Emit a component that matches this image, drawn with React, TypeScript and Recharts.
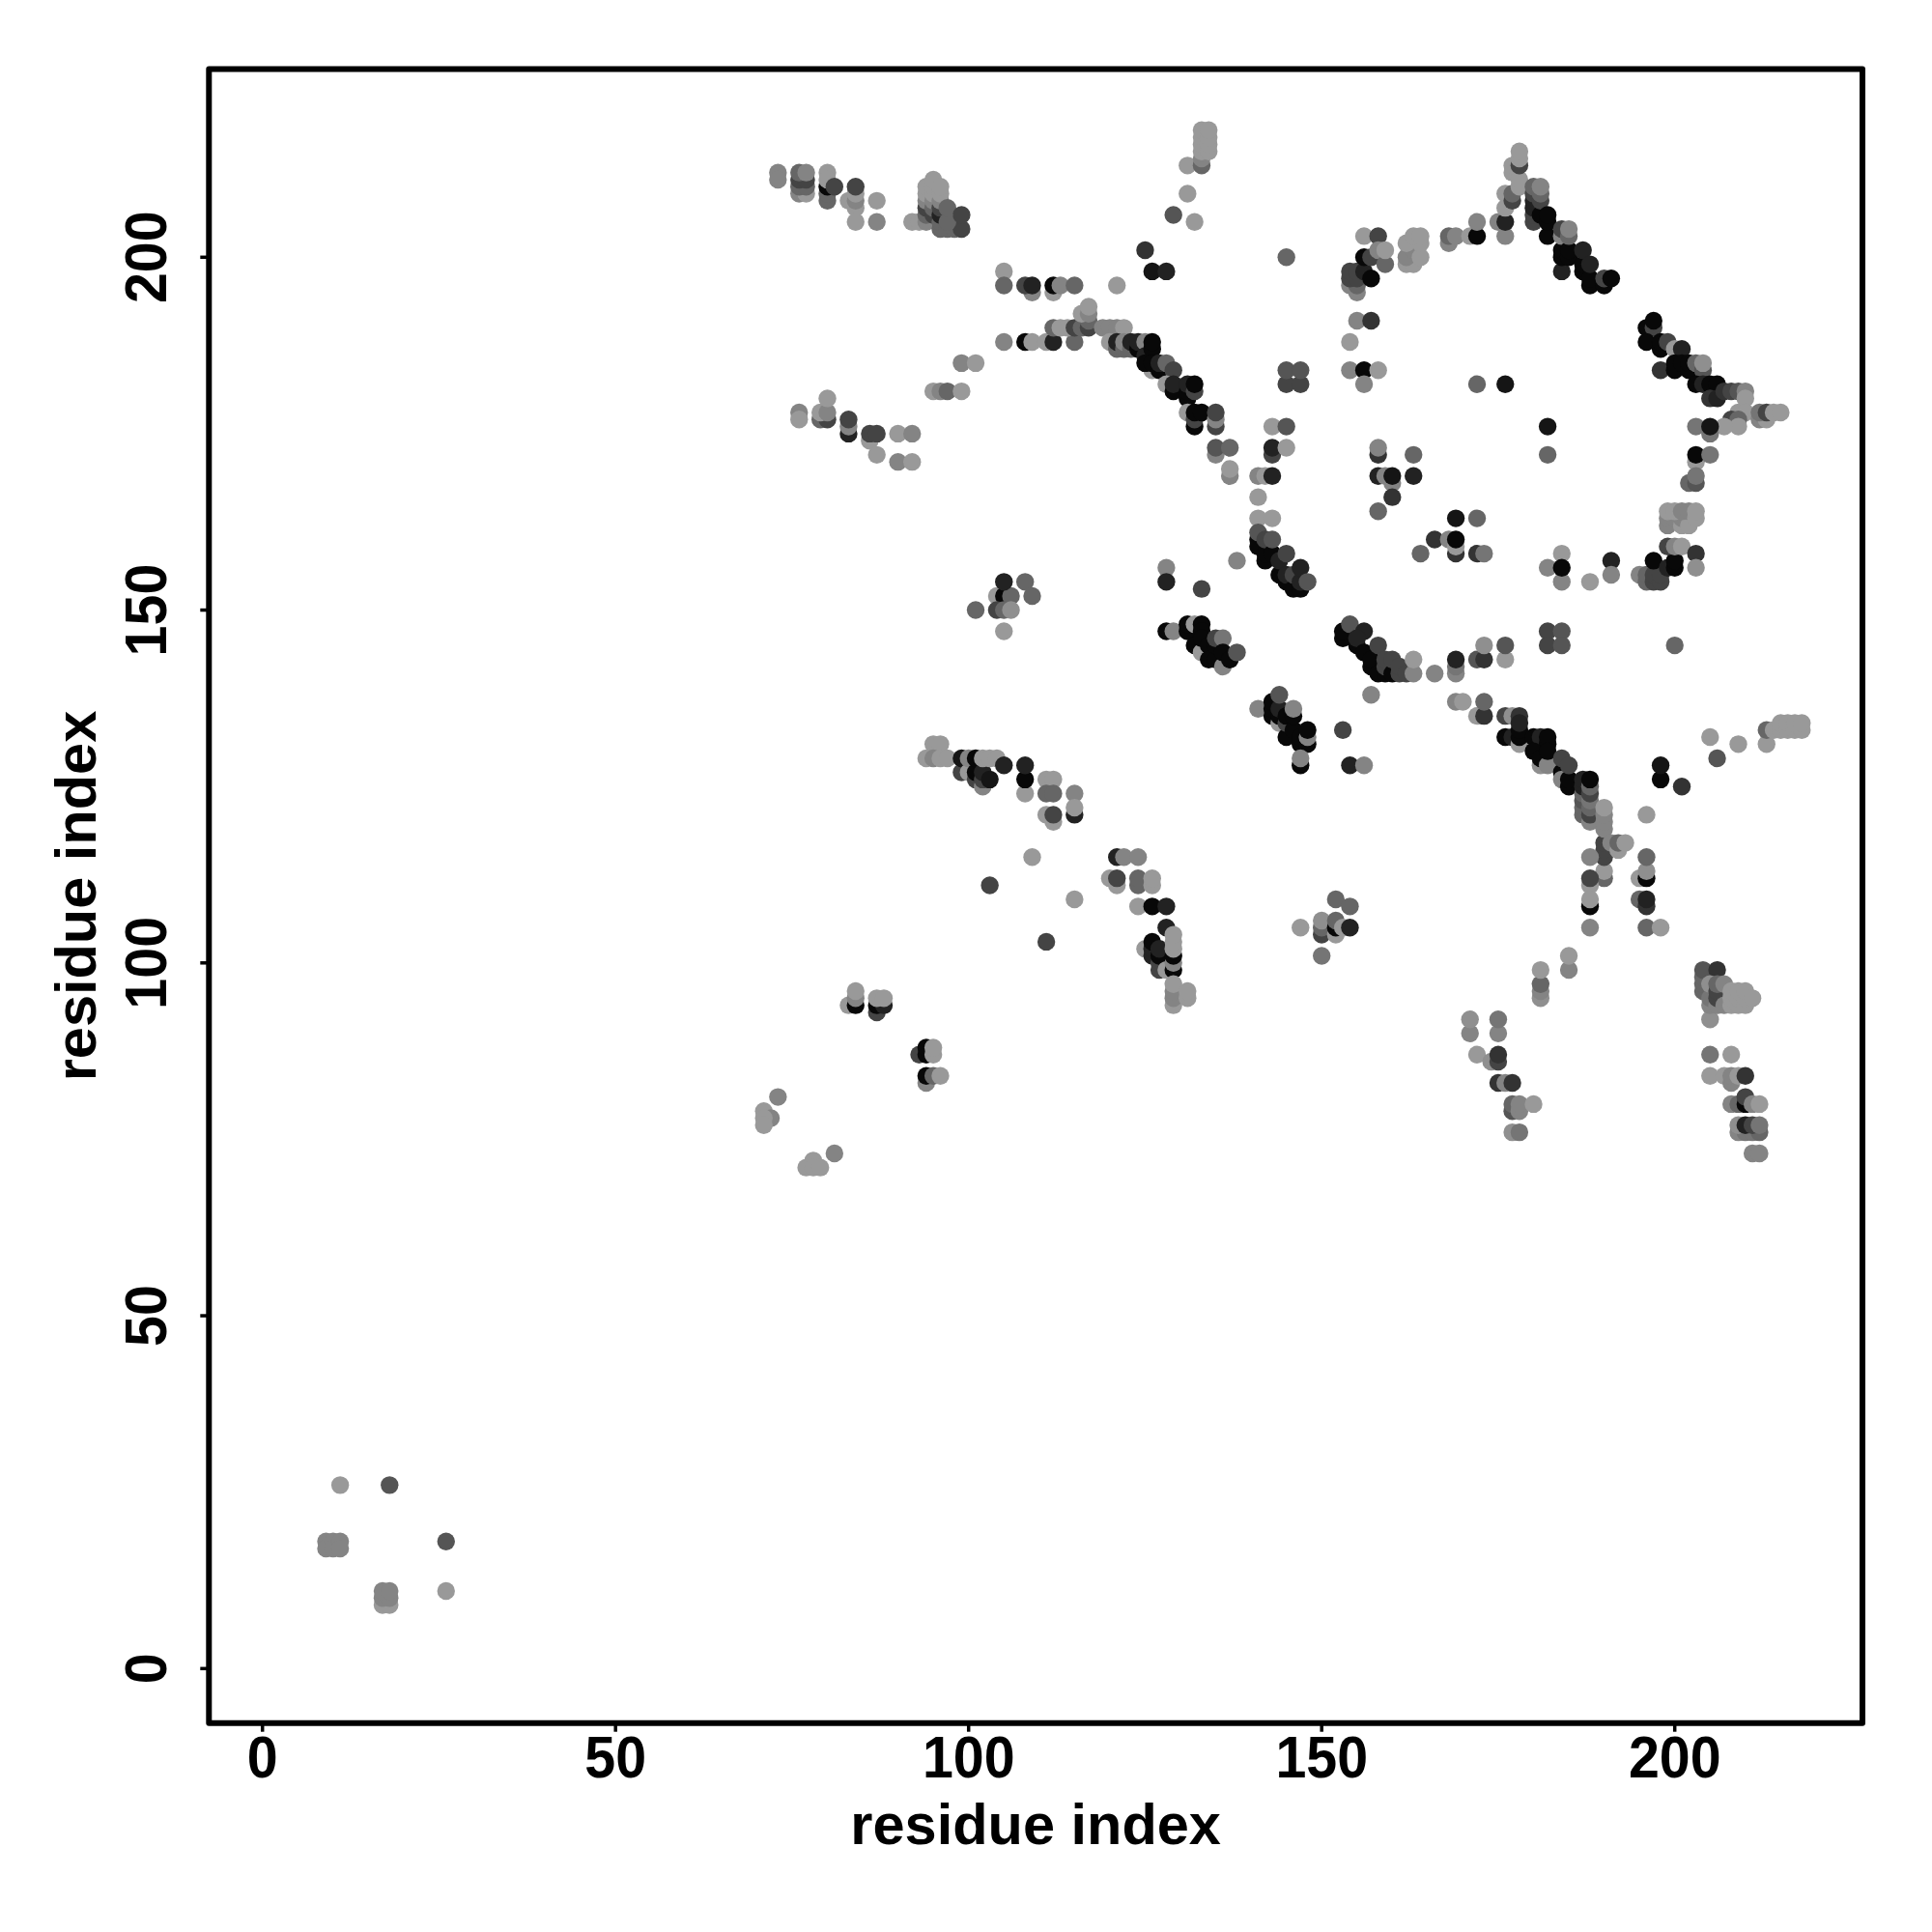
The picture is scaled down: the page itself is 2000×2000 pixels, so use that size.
import { ScatterChart, Scatter, XAxis, YAxis, ReferenceArea } from "recharts";

// every row: residue i, residue j, contact level (1 = weak ... 6 = strong)
type Row = [number, number, number];

const xTicks = [0, 50, 100, 150, 200];
const yTicks = [0, 50, 100, 150, 200];
const xDomain: [number, number] = [-7.58, 226.58];
const yDomain: [number, number] = [-7.72, 226.68];

const levelColors = ["#fff", "#999999", "#848484", "#666666", "#444444", "#222222", "#080808"];

const cornerContacts: Row[] = [
  [11, 26, 1], [18, 26, 3.5], [9, 18, 2], [9, 17, 2], [10, 18, 2], [10, 17, 2], [11, 18, 2], [11, 17, 2],
  [26, 18, 3.5], [26, 11, 1], [17, 9, 1], [18, 9, 1], [17, 10, 2], [18, 10, 2], [17, 11, 2], [18, 11, 2],
];

const lowerLeftContacts: Row[] = [
  [73, 81, 2], [71, 79, 1], [72, 78, 2], [71, 78, 1], [71, 77, 1], [81, 73, 2], [78, 72, 1], [77, 71, 1], [78, 71, 1], [79, 71, 1],
  [83, 94, 1], [84, 94, 6], [84, 95, 2], [84, 96, 1], [87, 93, 4], [87, 94, 6], [88, 94, 5], [87, 95, 1], [88, 95, 1],
  [93, 87, 4], [94, 87, 6], [94, 88, 6], [95, 87, 1], [95, 88, 1], [94, 83, 2], [94, 84, 6], [95, 84, 3], [96, 84, 1],
];

const topLeftContacts: Row[] = [
  [73, 212, 2], [73, 211, 2], [76, 209, 2], [77, 209, 1], [76, 210, 3], [77, 210, 3], [76, 211, 4], [77, 211, 4],
  [76, 212, 3], [77, 212, 2], [80, 208, 3], [80, 209, 3], [80, 210, 6], [80, 212, 1], [80, 211, 1], [81, 210, 4],
  [83, 208, 1], [84, 207, 1], [84, 208, 2], [84, 209, 1], [84, 210, 4], [84, 205, 1], [87, 208, 1], [87, 205, 2],
  [92, 205, 1], [93, 205, 1], [94, 205, 2], [94, 206, 3], [94, 207, 4], [94, 208, 2], [94, 209, 1], [94, 210, 1],
  [95, 206, 4], [95, 207, 3], [95, 208, 2], [95, 209, 1], [95, 210, 1], [95, 211, 1],
  [96, 204, 3], [96, 205, 3], [96, 206, 5], [96, 207, 4], [96, 208, 2], [96, 209, 1], [96, 210, 1],
  [97, 204, 3], [98, 204, 3], [99, 204, 4], [97, 205, 3], [97, 207, 3], [99, 206, 4],
  [76, 178, 2], [76, 177, 1], [79, 177, 3], [80, 177, 4], [79, 178, 1], [80, 178, 2], [80, 180, 1],
  [83, 175, 5], [83, 176, 2], [83, 177, 4], [86, 174, 1], [86, 175, 4], [87, 175, 4], [87, 172, 1],
  [90, 175, 1], [92, 175, 2], [90, 171, 2], [92, 171, 1],
  [95, 181, 1], [96, 181, 2], [97, 181, 3], [99, 181, 1], [99, 185, 2], [101, 185, 1],
];

const upperArcContacts: Row[] = [
  [105, 198, 1], [105, 196, 3], [109, 195, 2], [108, 196, 4], [109, 196, 5], [112, 195, 1], [112, 196, 6], [113, 196, 2], [115, 196, 3], [121, 196, 1],
  [125, 201, 4.5], [126, 198, 5.5], [128, 198, 5], [129, 206, 3.5], [132, 205, 1], [131, 209, 1], [131, 213, 1],
  [133, 213, 3], [133, 214, 2], [133, 215, 1], [133, 216, 1], [133, 217, 1], [133, 218, 1], [134, 215, 1], [134, 216, 1], [134, 217, 1], [134, 218, 1],
  [105, 188, 2], [108, 188, 6], [109, 188, 1], [111, 188, 1], [112, 188, 5], [115, 188, 3],
  [112, 190, 3], [113, 190, 1], [114, 190, 1], [115, 190, 4], [116, 190, 3], [117, 190, 4], [117, 191, 3], [116, 192, 1], [117, 192, 2], [117, 193, 1],
  [119, 190, 2], [120, 190, 2], [121, 190, 2], [122, 190, 1], [120, 188, 1], [121, 187, 3], [121, 188, 5], [122, 187, 3], [122, 188, 2],
  [123, 187, 3], [123, 188, 5], [124, 187, 6], [124, 188, 5], [125, 188, 2], [125, 186, 5], [126, 187, 6], [126, 188, 6],
  [126, 184, 1], [125, 185, 6], [126, 185, 6], [127, 184, 6], [127, 185, 5], [128, 185, 3], [129, 184, 4],
  [128, 182, 1], [129, 181, 6], [129, 182, 5], [131, 180, 6], [131, 181, 6], [131, 182, 5], [132, 181, 4], [132, 182, 6],
  [131, 178, 1], [132, 176, 6], [132, 177, 4], [132, 178, 6], [133, 178, 6], [135, 176, 4], [135, 177, 2], [135, 178, 4],
  [135, 172, 2], [135, 173, 3.5], [137, 173, 3], [137, 169, 2], [137, 170, 1], [141, 169, 2], [142, 169, 1], [143, 169, 5],
  [143, 172, 4], [143, 173, 5], [143, 176, 1], [145, 176, 3.5], [145, 173, 1], [141, 166, 1], [141, 163, 1], [143, 163, 1], [138, 157, 2],
  [145, 182, 4], [147, 182, 4], [145, 184, 3.5], [147, 184, 3.5],
];

const innerRingContacts: Row[] = [
  [141, 160, 6], [141, 159, 6], [141, 161, 3.5], [142, 157, 6], [142, 158, 6], [142, 160, 4], [143, 158, 6], [143, 160, 3.5],
  [144, 155, 6], [144, 157, 5], [145, 154, 6], [145, 155, 5], [145, 158, 4], [146, 153, 6], [146, 155, 4], [147, 153, 6], [147, 154, 5], [147, 156, 5], [148, 154, 3.5],
  [128, 156, 2], [128, 154, 5], [133, 153, 4],
  [128, 147, 6], [129, 147, 2], [131, 147, 6], [131, 148, 6], [132, 148, 1], [133, 148, 6], [133, 147, 6], [132, 145, 6], [133, 144, 1], [133, 146, 6],
  [134, 145, 6], [134, 143, 6], [135, 143, 6], [135, 145, 6], [135, 146, 4], [136, 146, 2.5], [136, 142, 2], [136, 144, 6], [137, 143, 6], [138, 144, 3.5],
  [141, 136, 2], [143, 135, 6], [143, 136, 6], [143, 137, 6], [144, 134, 1], [144, 135, 6], [144, 136, 5], [144, 138, 3.5], [145, 132, 6], [145, 134, 4], [145, 135, 6],
  [146, 133, 6], [146, 135, 6], [146, 136, 2], [147, 131, 6], [147, 132, 6], [148, 131, 6], [148, 132, 2], [148, 133, 6], [147, 128, 6], [147, 129, 2],
  [153, 133, 4], [154, 128, 5], [156, 128, 2],
  [153, 146, 6], [153, 147, 6], [154, 148, 3.5], [156, 147, 5], [155, 145, 6], [155, 146, 5], [156, 144, 6], [157, 142, 6], [157, 143, 6], [158, 141, 6], [158, 145, 4],
  [159, 141, 6], [159, 142, 4], [159, 143, 4], [160, 141, 6], [160, 143, 4], [161, 141, 4], [161, 142, 4], [162, 141, 4], [163, 141, 2], [163, 143, 1], [166, 141, 2],
  [169, 141, 2], [169, 142, 2.5], [169, 143, 5], [172, 143, 3.5], [173, 143, 4.5], [173, 145, 1.5], [176, 143, 1], [176, 145, 3.5],
  [182, 147, 4], [184, 147, 3.5], [182, 145, 4], [184, 145, 3.5], [200, 145, 3],
];

const ringTopContacts: Row[] = [
  [145, 200, 3], [154, 196, 2], [155, 195, 2], [155, 196, 3], [154, 197, 4], [155, 197, 4], [154, 198, 4], [155, 198, 4], [156, 198, 5], [157, 197, 6],
  [156, 200, 6], [157, 200, 4], [156, 203, 1], [158, 203, 4], [158, 201, 2], [159, 199, 3], [159, 201, 1],
  [162, 199, 1], [163, 199, 1], [162, 200, 2], [163, 201, 2], [164, 200, 1], [162, 202, 1], [164, 202, 1], [163, 203, 1], [164, 203, 1],
  [168, 202, 2], [168, 203, 3], [169, 203, 2], [171, 203, 1], [172, 203, 6], [172, 205, 2],
  [175, 205, 2], [176, 203, 2], [176, 205, 5], [176, 207, 1], [176, 209, 1], [177, 208, 4], [177, 209, 3], [177, 212, 1], [177, 213, 1],
  [178, 210, 1], [178, 211, 1], [178, 213, 4], [178, 214, 1], [178, 215, 1],
  [180, 205, 4], [180, 206, 4], [180, 207, 5], [180, 208, 5], [180, 209, 4], [180, 210, 3], [181, 206, 6], [181, 208, 4], [181, 209, 3], [181, 210, 2],
  [182, 203, 6], [182, 205, 6], [182, 206, 6], [184, 198, 5], [184, 200, 6], [184, 201, 6], [184, 203, 2], [184, 204, 4], [185, 200, 6], [185, 201, 6], [185, 203, 3], [185, 204, 2],
  [187, 198, 6], [187, 199, 6], [187, 201, 5], [188, 196, 6], [188, 197, 6], [188, 199, 5], [190, 196, 6], [190, 197, 4], [191, 197, 6],
  [155, 191, 2], [157, 191, 4.5], [154, 188, 1], [154, 184, 2], [156, 184, 6], [158, 184, 1], [156, 182, 2],
  [172, 182, 3], [176, 182, 5.5],
  [182, 176, 5.5], [182, 172, 3],
];

const ringInsideContacts: Row[] = [
  [158, 172, 4.5], [158, 173, 2], [163, 172, 3], [158, 169, 5], [159, 169, 2], [160, 168, 2], [160, 169, 5.5], [163, 169, 5], [160, 166, 4.5], [158, 164, 3],
  [169, 163, 5.5], [172, 163, 3], [166, 160, 4.5], [168, 160, 2], [169, 158, 4.5], [169, 159, 1], [169, 160, 6], [164, 158, 3], [172, 158, 4.5], [173, 158, 2.5],
];

const ringRightContacts: Row[] = [
  [196, 190, 6], [197, 190, 4], [197, 191, 6], [196, 188, 6], [198, 187, 6], [198, 188, 6], [199, 188, 4], [200, 187, 1], [201, 187, 5],
  [198, 184, 4.5], [200, 184, 6], [200, 185, 6], [201, 185, 6], [202, 184, 6], [202, 185, 6], [203, 185, 3], [204, 184, 3.5], [204, 185, 1.5],
  [203, 182, 6], [204, 182, 5], [205, 182, 6], [206, 182, 6], [205, 180, 4.5], [206, 180, 5], [207, 181, 4.5], [208, 181, 4], [209, 181, 3.5], [210, 181, 2], [210, 180, 1],
  [209, 178, 1], [210, 178, 1], [208, 177, 4], [209, 177, 3], [209, 176, 1], [207, 176, 1], [212, 177, 2], [213, 177, 1], [212, 178, 2.5], [213, 178, 4], [214, 178, 1], [215, 178, 1],
  [205, 175, 2.5], [203, 176, 2.5], [205, 176, 5.5],
  [203, 171, 1], [203, 172, 6], [205, 172, 2.5], [202, 168, 3], [203, 168, 3.5], [203, 169, 2.5],
  [199, 162, 2], [199, 163, 2], [200, 163, 2], [201, 162, 1], [201, 163, 2], [202, 162, 1], [199, 164, 1], [200, 164, 1], [201, 164, 2], [202, 164, 2], [203, 163, 1], [203, 164, 1],
  [195, 155, 2], [196, 154, 3], [196, 155, 3], [197, 154, 4], [197, 155, 4], [198, 154, 4], [198, 155, 4], [197, 157, 6], [199, 156, 5], [200, 156, 6], [200, 157, 6], [199, 159, 4], [200, 159, 2], [201, 159, 1],
  [203, 158, 4.5], [203, 156, 1.5], [191, 157, 5], [191, 155, 2], [188, 154, 1], [184, 158, 1], [182, 156, 2], [184, 154, 2], [184, 156, 6],
];

const lowerArcContacts: Row[] = [
  [94, 129, 1], [95, 131, 1], [96, 131, 1], [95, 129, 2], [96, 129, 1], [97, 129, 1], [99, 127, 4], [99, 129, 5.5], [100, 127, 1], [100, 129, 2], [101, 126, 4], [101, 127, 6], [101, 129, 6],
  [102, 125, 2], [102, 126, 4], [102, 127, 5], [103, 126, 5.5], [102, 129, 1], [103, 129, 1], [104, 129, 1], [105, 128, 5],
  [108, 124, 1], [108, 126, 6], [108, 128, 5], [111, 126, 1], [112, 126, 1], [111, 124, 3], [112, 124, 3], [115, 124, 2], [115, 121, 5], [115, 122, 1],
  [111, 121, 1], [112, 120, 1], [112, 121, 4], [109, 115, 1], [103, 111, 4], [115, 109, 1], [111, 103, 4],
  [121, 115, 5], [122, 115, 2], [124, 115, 2], [120, 112, 1], [121, 111, 1], [121, 112, 4], [124, 111, 3], [124, 112, 3], [126, 111, 1], [126, 112, 1],
  [124, 108, 1], [126, 108, 6], [128, 108, 5], [128, 105, 5], [125, 102, 1], [126, 101, 5], [126, 102, 5], [126, 103, 6], [127, 99, 4], [127, 100, 4], [127, 101, 6], [127, 102, 5], [128, 99, 1],
  [129, 99, 6], [129, 100, 2], [129, 101, 6], [129, 102, 1], [129, 103, 1], [129, 104, 1], [129, 94, 1], [129, 95, 2], [129, 96, 2], [129, 97, 1], [131, 95, 1], [131, 96, 1],
  [147, 105, 1], [150, 101, 2.5], [150, 104, 4], [150, 105, 3], [150, 106, 1.5], [152, 104, 1], [152, 105, 6], [152, 106, 3], [153, 105, 1], [154, 105, 5], [152, 109, 3], [154, 108, 3],
  [104, 152, 1], [105, 152, 6], [106, 152, 3], [105, 154, 5], [108, 154, 3], [109, 152, 3], [101, 150, 3], [104, 150, 4], [105, 150, 3], [106, 150, 1.5], [105, 147, 1],
];

const lowerRightContacts: Row[] = [
  [157, 138, 2], [169, 137, 2], [170, 137, 1], [172, 135, 1], [173, 135, 4.5], [173, 137, 3],
  [176, 135, 4], [177, 135, 1.5], [178, 135, 4.5], [176, 132, 6], [177, 132, 5], [178, 131, 1], [178, 132, 6], [178, 133, 6], [178, 134, 5], [180, 132, 6], [181, 132, 5], [182, 131, 6], [182, 132, 6],
  [180, 130, 6], [181, 128, 1.5], [181, 129, 6], [182, 128, 2], [182, 130, 6], [184, 127, 6], [184, 126, 2], [184, 129, 4], [185, 125, 6], [185, 126, 6], [185, 128, 4],
  [187, 121, 3], [187, 122, 3], [187, 123, 3.5], [187, 124, 3], [187, 125, 5], [187, 126, 5], [188, 120, 2], [188, 121, 4], [188, 122, 3], [188, 123, 2.5], [188, 124, 4], [188, 125, 3], [188, 126, 6],
  [190, 112, 3], [190, 113, 1], [190, 115, 4], [190, 116, 4], [190, 117, 4], [190, 119, 2], [190, 120, 2], [190, 121, 2], [190, 122, 1], [191, 117, 2], [192, 116, 1], [192, 117, 3], [193, 117, 1],
  [196, 121, 1], [188, 115, 2], [188, 111, 1], [188, 112, 4], [188, 108, 6], [188, 109, 1], [188, 105, 2],
  [195, 112, 1], [196, 112, 6], [196, 113, 1.5], [196, 115, 3], [195, 109, 3], [196, 108, 4.5], [196, 109, 5], [196, 105, 3], [198, 105, 1],
  [198, 126, 6], [198, 128, 5.5], [201, 125, 4.5], [205, 132, 1], [206, 129, 3.5], [209, 131, 1], [213, 131, 1], [213, 133, 3],
  [214, 133, 1], [215, 133, 1], [215, 134, 1], [216, 133, 1], [216, 134, 1], [217, 133, 1], [217, 134, 1], [218, 133, 1], [218, 134, 1],
  [185, 99, 2], [185, 101, 1], [181, 95, 1.5], [181, 96, 2], [181, 97, 3], [181, 99, 1],
  [171, 90, 2], [171, 92, 1.5], [175, 90, 2], [175, 92, 2.5], [172, 87, 1], [174, 86, 1.5], [175, 86, 4], [175, 87, 4.5],
  [175, 83, 4.5], [176, 83, 2], [177, 83, 4.5], [177, 79, 3.5], [177, 80, 3], [178, 79, 2], [178, 80, 2], [180, 80, 1], [177, 76, 1.5], [178, 76, 2.5],
  [204, 96, 3], [204, 97, 3], [204, 98, 3], [204, 99, 3.5], [206, 99, 4.5], [205, 92, 1.5], [205, 94, 2], [205, 95, 2.5], [205, 97, 1.5], [206, 94, 2], [206, 95, 4], [206, 96, 4], [206, 97, 3], [207, 94, 2], [207, 97, 2],
  [208, 94, 1], [208, 95, 1], [208, 96, 1], [209, 94, 1], [209, 95, 1], [209, 96, 1], [210, 94, 1], [210, 95, 1], [210, 96, 1], [211, 95, 1],
  [205, 87, 2.5], [208, 87, 1], [205, 84, 1], [207, 84, 1], [208, 83, 2], [208, 84, 2], [209, 84, 1], [210, 84, 4.5],
  [208, 80, 2], [209, 80, 3], [210, 80, 6], [210, 81, 4], [211, 80, 2], [212, 80, 1], [209, 76, 2], [210, 76, 2.5], [211, 76, 2.5], [212, 76, 3], [209, 77, 1.5], [210, 77, 5], [211, 77, 4], [212, 77, 2.5], [211, 73, 2], [212, 73, 2],
];

const contacts = [
  ...cornerContacts, ...lowerLeftContacts, ...topLeftContacts, ...upperArcContacts, ...innerRingContacts,
  ...ringTopContacts, ...ringInsideContacts, ...ringRightContacts, ...lowerArcContacts, ...lowerRightContacts,
].map(([i, j, level]) => ({ i, j, level }));

const tickFont = { fontFamily: "Liberation Sans", fontWeight: 700, fontSize: 61, fill: "#000" };
const titleFont = { ...tickFont, fontSize: 59.5 };

function levelColor(level: number) {
  const low = Math.floor(level);
  if (low === level) return levelColors[level];
  const a = parseInt(levelColors[low].slice(1, 3), 16);
  const b = parseInt(levelColors[low + 1].slice(1, 3), 16);
  const g = Math.round((a + b) / 2);
  return `rgb(${g},${g},${g})`;
}

function ContactDot(props: any) {
  return <circle cx={props.cx} cy={props.cy} r={9.2} fill={levelColor(props.payload.level)} />;
}

// the tick digits in the reference are a little narrower than the font
function YTick({ x, y, payload }: any) {
  return (
    <text transform={`translate(${x - 33} ${y}) rotate(-90) scale(0.94 1)`} textAnchor="middle" {...tickFont}>
      {payload.value}
    </text>
  );
}

function XTick({ x, y, payload }: any) {
  return (
    <text transform={`translate(${x} ${y + 47}) scale(0.94 1)`} textAnchor="middle" {...tickFont}>
      {payload.value}
    </text>
  );
}

function YTitle({ viewBox }: any) {
  const cy = viewBox.y + viewBox.height / 2;
  return (
    <text x={99} y={cy} transform={`rotate(-90 99 ${cy})`} textAnchor="middle" {...titleFont}>
      residue index
    </text>
  );
}

export default function App() {
  return (
    <div style={{ position: "absolute", left: 0, top: 0, width: 2000, height: 2000, background: "#fff" }}>
      <ScatterChart width={2000} height={2000} margin={{ top: 71.4, right: 72, bottom: 0, left: 0 }}>
        <XAxis
          type="number"
          dataKey="i"
          domain={xDomain}
          ticks={xTicks}
          height={216.3}
          allowDataOverflow
          axisLine={false}
          tickLine={{ stroke: "#000", strokeWidth: 3.5 }}
          tickSize={9}
          tickMargin={0}
          tick={<XTick />}
          label={{ value: "residue index", position: "insideBottom", offset: 91, ...titleFont }}
        />
        <YAxis
          type="number"
          dataKey="j"
          domain={yDomain}
          ticks={yTicks}
          width={216.3}
          allowDataOverflow
          axisLine={false}
          tickLine={{ stroke: "#000", strokeWidth: 3.5 }}
          tickSize={9}
          tick={<YTick />}
          label={{ content: <YTitle /> }}
        />
        <Scatter data={contacts} shape={<ContactDot />} isAnimationActive={false} />
        <ReferenceArea
          x1={xDomain[0]}
          x2={xDomain[1]}
          y1={yDomain[0]}
          y2={yDomain[1]}
          fill="none"
          stroke="#000"
          strokeWidth={6}
          strokeLinejoin="round"
          ifOverflow="visible"
        />
      </ScatterChart>
    </div>
  );
}
